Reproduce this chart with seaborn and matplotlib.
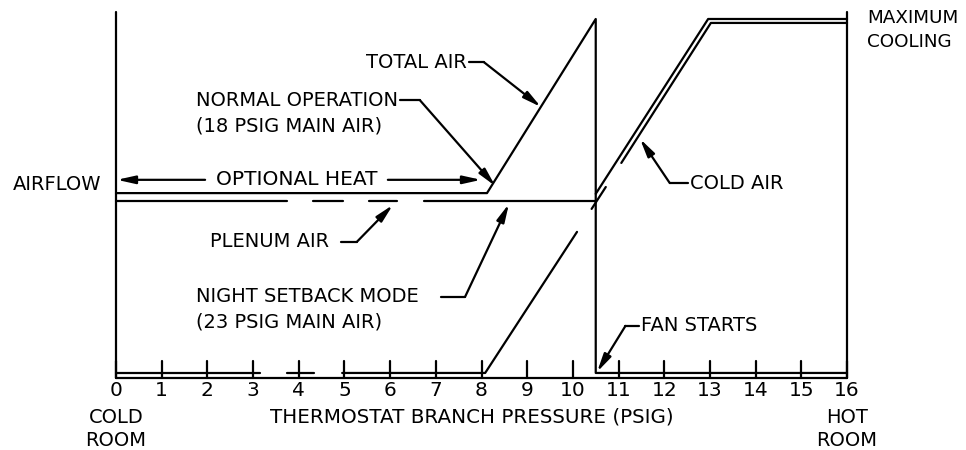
import numpy as np
import pandas as pd
import matplotlib
matplotlib.use("Agg")
import matplotlib.pyplot as plt
import seaborn as sns

sns.set_theme(style="white")
plt.rcParams["font.family"] = ["DejaVu Sans"]
plt.rcParams["text.color"] = "black"

# ── Dados (x = pressão PSIG, y = vazão relativa) ─────────────────────────────
total_x = [0, 8.12, 10.5, 10.5, 16]
total_y = [51.5, 51.5, 100, 1.4, 1.4]

plenum_seg = [(0, 3.75), (4.31, 4.97), (5.54, 6.15), (6.74, 10.5)]
plenum_y = 49.3

night_seg = [(0, 3.15), (3.74, 4.33)]
night_y = 1.4
night_x = [4.95, 8.08, 10.09]
night_yv = [1.4, 1.4, 40.7]

coldA_x = [10.5, 12.96, 16]
coldA_y = [51.3, 100, 100]
coldB_x = [11.06, 13.02, 16]
coldB_y = [59.9, 98.9, 98.9]
coldB2_x = [10.41, 10.72]
coldB2_y = [47.1, 53.2]

ticks = list(range(0, 17))
top_y = 101.9

LW = 1.6
K = "black"

fig = plt.figure(figsize=(9.66, 4.5), dpi=100)
ax = fig.add_axes([0, 0, 1, 1])

def linha(xs, ys, **kw):
    df = pd.DataFrame({"x": xs, "y": ys})
    sns.lineplot(data=df, x="x", y="y", sort=False, estimator=None,
                 color=K, lw=LW, ax=ax, **kw)

linha(total_x, total_y)
for a, b in plenum_seg:
    linha([a, b], [plenum_y, plenum_y])
for a, b in night_seg:
    linha([a, b], [night_y, night_y])
linha(night_x, night_yv)
linha(coldA_x, coldA_y)
linha(coldB_x, coldB_y)
linha(coldB2_x, coldB2_y)

# bordas e eixo
linha([0, 0], [0, top_y])
linha([16, 16], [0, top_y])
linha([0, 16], [0, 0])
fs = 14
for t in ticks:
    ax.plot([t, t], [0, 4.7], color=K, lw=LW)
    ax.text(t, -3.4, str(t), ha="center", va="center", fontsize=14.5)

# setas
def seta(pts, **kw):
    xs = [p[0] for p in pts]
    ys = [p[1] for p in pts]
    ax.plot(xs[:-1], ys[:-1], color=K, lw=LW)
    ax.annotate("", xy=pts[-1], xytext=pts[-2],
                arrowprops=dict(arrowstyle="-|>,head_length=0.9,head_width=0.2",
                                color=K, lw=LW, shrinkA=0, shrinkB=0))

ax.text(-1.28, 53.8, "AIRFLOW", ha="center", va="center", fontsize=fs)
ax.text(3.95, 55.2, "OPTIONAL HEAT", ha="center", va="center", fontsize=14.5)
seta([(1.95, 55.2), (0.02, 55.2)])
seta([(5.95, 55.2), (7.99, 55.2)])

ax.text(7.68, 88.0, "TOTAL AIR", ha="right", va="center", fontsize=fs)
seta([(7.72, 88.0), (8.05, 88.0), (9.3, 75.5)])

ax.text(1.75, 77.4, "NORMAL OPERATION", ha="left", va="center", fontsize=fs)
ax.text(1.75, 70.2, "(18 PSIG MAIN AIR)", ha="left", va="center", fontsize=fs)
seta([(6.22, 77.4), (6.65, 77.4), (8.3, 53.5)])

ax.text(2.06, 37.9, "PLENUM AIR", ha="left", va="center", fontsize=fs)
seta([(4.92, 37.9), (5.27, 37.9), (6.06, 48.2)])

ax.text(1.75, 22.6, "NIGHT SETBACK MODE", ha="left", va="center", fontsize=fs)
ax.text(1.75, 15.6, "(23 PSIG MAIN AIR)", ha="left", va="center", fontsize=fs)
seta([(7.12, 22.6), (7.64, 22.6), (8.6, 48.5)])

ax.text(11.5, 14.5, "FAN STARTS", ha="left", va="center", fontsize=fs)
seta([(11.45, 14.5), (11.15, 14.5), (10.53, 1.7)])

ax.text(12.56, 54.3, "COLD AIR", ha="left", va="center", fontsize=fs)
seta([(12.52, 54.3), (12.12, 54.3), (11.47, 66.6)])

ax.text(16.44, 100.3, "MAXIMUM", ha="left", va="center", fontsize=13.2)
ax.text(16.44, 93.6, "COOLING", ha="left", va="center", fontsize=13.2)

ax.text(0, -10.9, "COLD", ha="center", va="center", fontsize=fs)
ax.text(0, -17.5, "ROOM", ha="center", va="center", fontsize=fs)
ax.text(16, -10.9, "HOT", ha="center", va="center", fontsize=fs)
ax.text(16, -17.5, "ROOM", ha="center", va="center", fontsize=fs)
ax.text(7.79, -10.9, "THERMOSTAT BRANCH PRESSURE (PSIG)", ha="center", va="center", fontsize=14.3)

ax.set_xlim(-2.539, 18.604)
ax.set_ylim(-20.06, 105.29)
ax.set_axis_off()

fig.savefig("out.png", dpi=100)
